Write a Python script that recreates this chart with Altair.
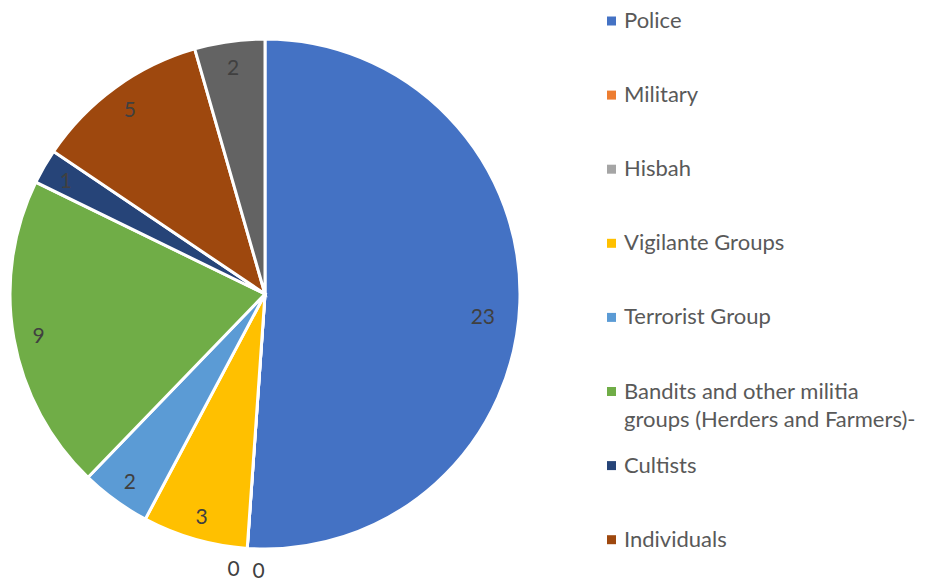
import altair as alt
import pandas as pd

categories = [
    "Police",
    "Military",
    "Hisbah",
    "Vigilante Groups",
    "Terrorist Group",
    "Bandits and other militia groups (Herders and Farmers)-",
    "Cultists",
    "Individuals",
    "Others",
]
values = [23, 0, 0, 3, 2, 9, 1, 5, 2]
colors = ["#4472C4", "#ED7D31", "#A5A5A5", "#FFC000", "#5B9BD5",
          "#70AD47", "#264478", "#9E480E", "#636363"]

df = pd.DataFrame({"category": categories, "value": values,
                   "idx": list(range(len(categories)))})

FONT = "Lato"
BANDITS = categories[5]

color = alt.Color(
    "category:N",
    scale=alt.Scale(domain=categories, range=colors),
    sort=categories,
    legend=None,
)

base = alt.Chart(df).encode(
    theta=alt.Theta("value:Q", stack=True),
    order=alt.Order("idx:Q"),
    x=alt.value(257),
    y=alt.value(286),
)

arcs = base.mark_arc(outerRadius=255, stroke="white", strokeWidth=3).encode(color=color)

txt = dict(font=FONT, fontSize=21, color="#404040")

labels = base.mark_text(radius=230, dy=3, **txt).encode(
    text=alt.condition("datum.value > 0 && datum.category != 'Police'",
                       alt.Text("value:Q"), alt.value(""))
)

police = base.mark_text(radius=222, dx=-4, dy=16, **txt).encode(
    text=alt.condition("datum.category == 'Police'",
                       alt.Text("value:Q"), alt.value(""))
)

zero1 = base.mark_text(radius=277, dx=13, dy=2, **txt).encode(
    text=alt.condition("datum.category == 'Military'",
                       alt.Text("value:Q"), alt.value(""))
)

zero2 = base.mark_text(radius=277, dx=-12, **txt).encode(
    text=alt.condition("datum.category == 'Hisbah'",
                       alt.Text("value:Q"), alt.value(""))
)

# legend drawn as marks on a point scale
leg_y = alt.Y(
    "category:N",
    sort=categories,
    scale=alt.Scale(type="point", domain=categories, range=[13, 13 + 74.1 * 8], padding=0),
    axis=None,
)

leg_base = alt.Chart(df).encode(y=leg_y)

leg_sym = leg_base.mark_square(size=81, opacity=1, x=603.5).encode(color=color)

leg_txt = leg_base.mark_text(
    x=616, align="left", baseline="middle", font=FONT, fontSize=22,
    color="#595959", lineBreak="\n", lineHeight=28,
).encode(text="label:N").transform_calculate(
    label=f"datum.category == '{BANDITS}' ? 'Bandits and other militia\\ngroups (Herders and Farmers)-' : datum.category"
)

chart = alt.layer(arcs, labels, police, zero1, zero2, leg_sym, leg_txt).properties(
    width=910, height=571, autosize=alt.AutoSizeParams(type="none"), padding=0
).configure_view(stroke=None)

chart.save("out.html", embed_options={"renderer": "svg", "actions": False})
